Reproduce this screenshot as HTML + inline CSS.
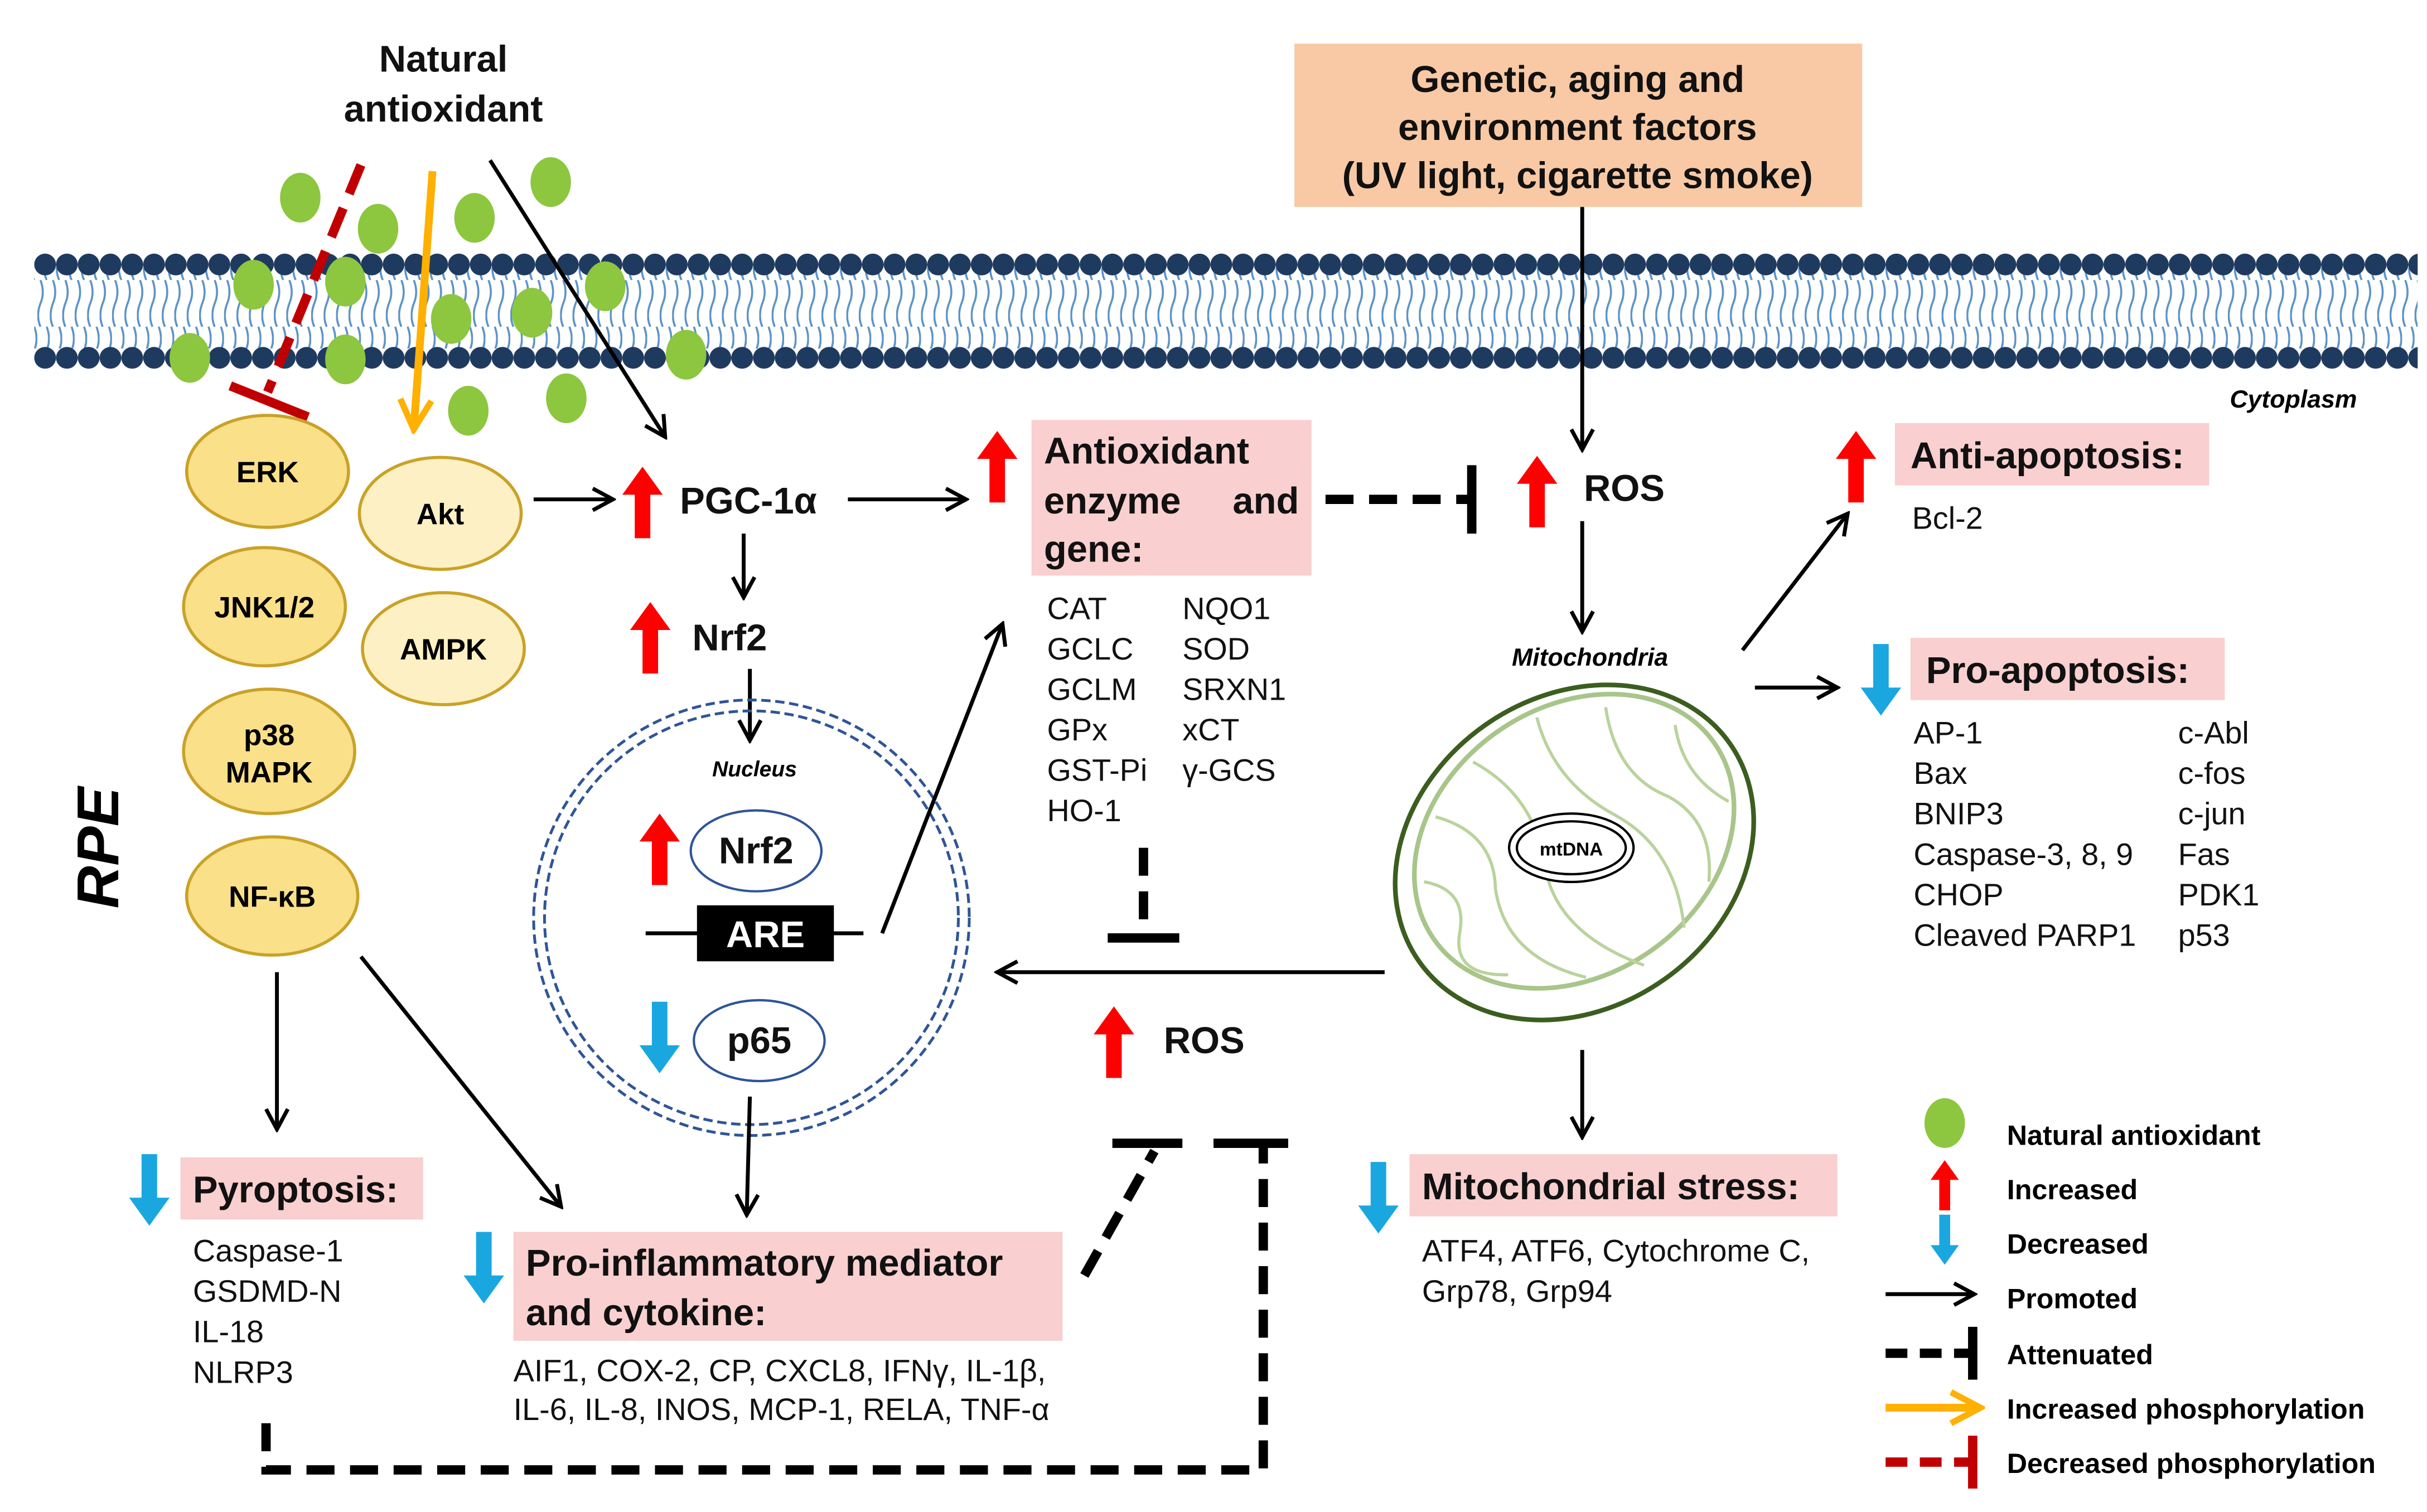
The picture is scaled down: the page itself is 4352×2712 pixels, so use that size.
<!DOCTYPE html>
<html><head><meta charset="utf-8"><style>
html,body{margin:0;padding:0;background:#fff}
svg{display:block}
text{font-family:"Liberation Sans",Arial,sans-serif}
.b{font-weight:bold}
.h{font-size:24px;font-weight:bold;fill:#111}
.l{font-size:20px;fill:#111}
</style></head><body>
<svg width="4352" height="2712" viewBox="0 0 1560 972" xmlns="http://www.w3.org/2000/svg">
<defs>
<marker id="ah2" markerWidth="16" markerHeight="16" refX="13" refY="8" orient="auto" markerUnits="userSpaceOnUse" viewBox="0 0 16 16"><path d="M1,1 L14,8 L1,15" fill="none" stroke="#000" stroke-width="2.5"/></marker>
<marker id="oh" markerWidth="24" markerHeight="24" refX="20" refY="12" orient="auto" markerUnits="userSpaceOnUse" viewBox="0 0 24 24"><path d="M2,2 L21,12 L2,22" fill="none" stroke="#FFB000" stroke-width="4"/></marker>
<pattern id="tails" x="0" y="0" width="8" height="60" patternUnits="userSpaceOnUse">
<path d="M2,0 q3,8 0,15 q-3,8 0,15 M6,30 q3,8 0,15 q-3,8 0,15" stroke="#5B93C9" stroke-width="1.3" fill="none"/>
</pattern>
<pattern id="beads" x="22" y="0" width="14" height="20" patternUnits="userSpaceOnUse">
<circle cx="7" cy="10" r="7" fill="#1F3A5F"/>
</pattern>
<g id="up"><polygon points="0,-23 13,-5 5,-5 5,23 -5,23 -5,-5 -13,-5" fill="#FF0000"/></g>
<g id="dn"><polygon points="0,23 13,5 5,5 5,-23 -5,-23 -5,5 -13,5" fill="#1AA7E0"/></g>
</defs>

<rect x="22" y="172" width="1532" height="52" fill="url(#tails)"/>
<rect x="22" y="158" width="1532" height="20" fill="url(#beads)"/>
<rect x="22" y="218" width="1532" height="20" fill="url(#beads)"/>
<text x="1515" y="262" text-anchor="end" font-size="16" font-style="italic" font-weight="bold">Cytoplasm</text>

<text x="285" y="46" class="h" text-anchor="middle">Natural</text>
<text x="285" y="78" class="h" text-anchor="middle">antioxidant</text>
<g fill="#8DC63F">
<ellipse cx="193" cy="127" rx="13" ry="16"/><ellipse cx="243" cy="147" rx="13" ry="16"/><ellipse cx="305" cy="140" rx="13" ry="16"/><ellipse cx="354" cy="117" rx="13" ry="16"/>
<ellipse cx="163" cy="183" rx="13" ry="16"/><ellipse cx="222" cy="181" rx="13" ry="16"/><ellipse cx="290" cy="205" rx="13" ry="16"/><ellipse cx="342" cy="201" rx="13" ry="16"/><ellipse cx="389" cy="184" rx="13" ry="16"/>
<ellipse cx="122" cy="230" rx="13" ry="16"/><ellipse cx="222" cy="231" rx="13" ry="16"/><ellipse cx="301" cy="264" rx="13" ry="16"/><ellipse cx="364" cy="256" rx="13" ry="16"/><ellipse cx="441" cy="228" rx="13" ry="16"/>
</g>
<line x1="232" y1="106" x2="172" y2="252" stroke="#C00000" stroke-width="6" stroke-dasharray="20,10"/>
<line x1="148" y1="248" x2="198" y2="268" stroke="#C00000" stroke-width="6"/>
<line x1="278" y1="110" x2="266" y2="275" stroke="#FFB000" stroke-width="5" marker-end="url(#oh)"/>
<line x1="315" y1="103" x2="427" y2="280" stroke="#000" stroke-width="2.5" marker-end="url(#ah2)"/>

<g stroke="#C9A227" stroke-width="2">
<ellipse cx="172" cy="303" rx="52" ry="36" fill="#FBE08A"/>
<ellipse cx="170" cy="390" rx="52" ry="38" fill="#FBE08A"/>
<ellipse cx="173" cy="483" rx="55" ry="40" fill="#FBE08A"/>
<ellipse cx="175" cy="576" rx="55" ry="38" fill="#FBE08A"/>
<ellipse cx="283" cy="330" rx="52" ry="36" fill="#FDF0C4"/>
<ellipse cx="285" cy="417" rx="52" ry="36" fill="#FDF0C4"/>
</g>
<g font-size="19" font-weight="bold" text-anchor="middle">
<text x="172" y="310">ERK</text><text x="170" y="397">JNK1/2</text>
<text x="173" y="479">p38</text><text x="173" y="503">MAPK</text>
<text x="175" y="583">NF-κB</text><text x="283" y="337">Akt</text><text x="285" y="424">AMPK</text>
</g>
<text transform="translate(76,545) rotate(-90)" text-anchor="middle" font-size="38" font-weight="bold" font-style="italic">RPE</text>

<line x1="343" y1="321" x2="393" y2="321" stroke="#000" stroke-width="2.5" marker-end="url(#ah2)"/>
<use href="#up" x="413" y="323"/>
<text x="437" y="330" class="h">PGC-1α</text>
<line x1="545" y1="321" x2="620" y2="321" stroke="#000" stroke-width="2.5" marker-end="url(#ah2)"/>
<use href="#up" x="641" y="300"/>
<rect x="663" y="270" width="180" height="100" fill="#F9CFCF"/>
<text x="671" y="298" class="h">Antioxidant</text>
<text x="671" y="330" class="h">enzyme</text><text x="835" y="330" class="h" text-anchor="end">and</text>
<text x="671" y="361" class="h">gene:</text>
<text x="673" y="398" class="l">CAT</text><text x="673" y="424" class="l">GCLC</text><text x="673" y="450" class="l">GCLM</text><text x="673" y="476" class="l">GPx</text><text x="673" y="502" class="l">GST-Pi</text><text x="673" y="528" class="l">HO-1</text>
<text x="760" y="398" class="l">NQO1</text><text x="760" y="424" class="l">SOD</text><text x="760" y="450" class="l">SRXN1</text><text x="760" y="476" class="l">xCT</text><text x="760" y="502" class="l">γ-GCS</text>
<line x1="852" y1="321" x2="944" y2="321" stroke="#000" stroke-width="6" stroke-dasharray="18,10"/>
<line x1="946" y1="299" x2="946" y2="343" stroke="#000" stroke-width="6"/>
<use href="#up" x="988" y="316"/>
<text x="1018" y="322" class="h">ROS</text>

<rect x="832" y="28" width="365" height="105" fill="#F8C9A4"/>
<text x="1014" y="59" class="h" text-anchor="middle">Genetic, aging and</text>
<text x="1014" y="90" class="h" text-anchor="middle">environment factors</text>
<text x="1014" y="121" class="h" text-anchor="middle">(UV light, cigarette smoke)</text>
<line x1="1017" y1="133" x2="1017" y2="288" stroke="#000" stroke-width="2.5" marker-end="url(#ah2)"/>
<line x1="1017" y1="335" x2="1017" y2="405" stroke="#000" stroke-width="2.5" marker-end="url(#ah2)"/>
<text x="1022" y="428" text-anchor="middle" font-size="16" font-style="italic" font-weight="bold">Mitochondria</text>

<g transform="translate(1012,548) rotate(-35)">
<ellipse cx="0" cy="0" rx="122" ry="100" fill="#fff" stroke="#3B5E1F" stroke-width="3"/>
<ellipse cx="4" cy="-6" rx="110" ry="86" fill="#fff" stroke="#A8C58A" stroke-width="3"/>
<path d="M-90,-40 q20,20 0,40 q-20,20 10,40 M-60,-70 q25,30 5,60 q-20,40 15,80 M-20,-85 q20,40 0,80 q-20,40 15,90 M30,-85 q-15,40 5,80 q20,40 -5,85 M70,-65 q-20,40 0,70 q15,30 -10,60 M100,-30 q-15,30 0,60" fill="none" stroke="#B9D39C" stroke-width="2"/>
</g>
<ellipse cx="1010" cy="545" rx="40" ry="22" fill="#fff" stroke="#000" stroke-width="1.5"/>
<ellipse cx="1010" cy="545" rx="35" ry="17" fill="#fff" stroke="#000" stroke-width="1.5"/>
<text x="1010" y="550" text-anchor="middle" font-size="12" font-weight="bold">mtDNA</text>

<line x1="1120" y1="418" x2="1187" y2="331" stroke="#000" stroke-width="2.5" marker-end="url(#ah2)"/>
<use href="#up" x="1193" y="300"/>
<rect x="1218" y="272" width="202" height="40" fill="#F9CFCF"/>
<text x="1228" y="301" class="h">Anti-apoptosis:</text>
<text x="1229" y="340" class="l">Bcl-2</text>
<line x1="1128" y1="442" x2="1180" y2="442" stroke="#000" stroke-width="2.5" marker-end="url(#ah2)"/>
<use href="#dn" x="1209" y="437"/>
<rect x="1228" y="410" width="202" height="40" fill="#F9CFCF"/>
<text x="1238" y="439" class="h">Pro-apoptosis:</text>
<text x="1230" y="478" class="l">AP-1</text><text x="1230" y="504" class="l">Bax</text><text x="1230" y="530" class="l">BNIP3</text><text x="1230" y="556" class="l">Caspase-3, 8, 9</text><text x="1230" y="582" class="l">CHOP</text><text x="1230" y="608" class="l">Cleaved PARP1</text>
<text x="1400" y="478" class="l">c-Abl</text><text x="1400" y="504" class="l">c-fos</text><text x="1400" y="530" class="l">c-jun</text><text x="1400" y="556" class="l">Fas</text><text x="1400" y="582" class="l">PDK1</text><text x="1400" y="608" class="l">p53</text>

<line x1="1017" y1="675" x2="1017" y2="730" stroke="#000" stroke-width="2.5" marker-end="url(#ah2)"/>
<use href="#dn" x="886" y="770"/>
<rect x="906" y="742" width="275" height="40" fill="#F9CFCF"/>
<text x="914" y="771" class="h">Mitochondrial stress:</text>
<text x="914" y="811" class="l">ATF4, ATF6, Cytochrome C,</text>
<text x="914" y="837" class="l">Grp78, Grp94</text>

<line x1="890" y1="625" x2="642" y2="625" stroke="#000" stroke-width="2.5" marker-end="url(#ah2)"/>
<line x1="735" y1="545" x2="735" y2="600" stroke="#000" stroke-width="6" stroke-dasharray="18,10"/>
<line x1="712" y1="603" x2="758" y2="603" stroke="#000" stroke-width="6"/>
<use href="#up" x="716" y="670"/>
<text x="748" y="677" class="h">ROS</text>

<line x1="478" y1="343" x2="478" y2="383" stroke="#000" stroke-width="2.5" marker-end="url(#ah2)"/>
<use href="#up" x="418" y="410"/>
<text x="445" y="418" class="h">Nrf2</text>
<line x1="482" y1="430" x2="482" y2="475" stroke="#000" stroke-width="2.5" marker-end="url(#ah2)"/>
<circle cx="483" cy="590" r="140" fill="none" stroke="#2F5597" stroke-width="1.8" stroke-dasharray="6,3"/>
<circle cx="483" cy="590" r="133" fill="none" stroke="#2F5597" stroke-width="1.8" stroke-dasharray="6,3"/>
<text x="485" y="499" text-anchor="middle" font-size="14" font-style="italic" font-weight="bold">Nucleus</text>
<use href="#up" x="424" y="546"/>
<ellipse cx="486" cy="547" rx="42" ry="26" fill="#fff" stroke="#2F5597" stroke-width="1.5"/>
<text x="486" y="555" class="h" text-anchor="middle">Nrf2</text>
<line x1="415" y1="600" x2="555" y2="600" stroke="#000" stroke-width="2.5"/>
<rect x="448" y="582" width="88" height="36" fill="#000"/>
<text x="492" y="609" text-anchor="middle" font-size="24" font-weight="bold" fill="#fff">ARE</text>
<line x1="567" y1="600" x2="644" y2="402" stroke="#000" stroke-width="2.5" marker-end="url(#ah2)"/>
<use href="#dn" x="424" y="667"/>
<ellipse cx="488" cy="669" rx="42" ry="26" fill="#fff" stroke="#2F5597" stroke-width="1.5"/>
<text x="488" y="677" class="h" text-anchor="middle">p65</text>
<line x1="482" y1="705" x2="480" y2="780" stroke="#000" stroke-width="2.5" marker-end="url(#ah2)"/>

<line x1="178" y1="625" x2="178" y2="725" stroke="#000" stroke-width="2.5" marker-end="url(#ah2)"/>
<line x1="232" y1="615" x2="360" y2="775" stroke="#000" stroke-width="2.5" marker-end="url(#ah2)"/>
<use href="#dn" x="96" y="765"/>
<rect x="116" y="744" width="156" height="40" fill="#F9CFCF"/>
<text x="124" y="773" class="h">Pyroptosis:</text>
<text x="124" y="811" class="l">Caspase-1</text><text x="124" y="837" class="l">GSDMD-N</text><text x="124" y="863" class="l">IL-18</text><text x="124" y="889" class="l">NLRP3</text>
<use href="#dn" x="311" y="815"/>
<rect x="330" y="792" width="353" height="70" fill="#F9CFCF"/>
<text x="338" y="820" class="h">Pro-inflammatory mediator</text>
<text x="338" y="852" class="h">and cytokine:</text>
<text x="330" y="888" class="l">AIF1, COX-2, CP, CXCL8, IFNγ, IL-1β,</text>
<text x="330" y="913" class="l">IL-6, IL-8, INOS, MCP-1, RELA, TNF-α</text>

<line x1="697" y1="820" x2="742" y2="740" stroke="#000" stroke-width="6" stroke-dasharray="18,10"/>
<line x1="715" y1="735" x2="760" y2="735" stroke="#000" stroke-width="6"/>
<path d="M171,915 L171,945 L812,945 L812,738" fill="none" stroke="#000" stroke-width="6" stroke-dasharray="18,10"/>
<line x1="780" y1="735" x2="828" y2="735" stroke="#000" stroke-width="6"/>

<ellipse cx="1250" cy="722" rx="13" ry="16" fill="#8DC63F"/>
<text x="1290" y="736" font-size="18" font-weight="bold">Natural antioxidant</text>
<g transform="translate(1250,762) scale(0.7)"><use href="#up"/></g>
<text x="1290" y="771" font-size="18" font-weight="bold">Increased</text>
<g transform="translate(1250,797) scale(0.7)"><use href="#dn"/></g>
<text x="1290" y="806" font-size="18" font-weight="bold">Decreased</text>
<line x1="1212" y1="832" x2="1268" y2="832" stroke="#000" stroke-width="2.5" marker-end="url(#ah2)"/>
<text x="1290" y="841" font-size="18" font-weight="bold">Promoted</text>
<line x1="1212" y1="870" x2="1266" y2="870" stroke="#000" stroke-width="6" stroke-dasharray="14,8"/>
<line x1="1268" y1="853" x2="1268" y2="887" stroke="#000" stroke-width="6"/>
<text x="1290" y="877" font-size="18" font-weight="bold">Attenuated</text>
<line x1="1212" y1="905" x2="1272" y2="905" stroke="#FFB000" stroke-width="5" marker-end="url(#oh)"/>
<text x="1290" y="912" font-size="18" font-weight="bold">Increased phosphorylation</text>
<line x1="1212" y1="940" x2="1266" y2="940" stroke="#C00000" stroke-width="6" stroke-dasharray="14,8"/>
<line x1="1268" y1="923" x2="1268" y2="957" stroke="#C00000" stroke-width="6"/>
<text x="1290" y="947" font-size="18" font-weight="bold">Decreased phosphorylation</text>
</svg>
</body></html>
